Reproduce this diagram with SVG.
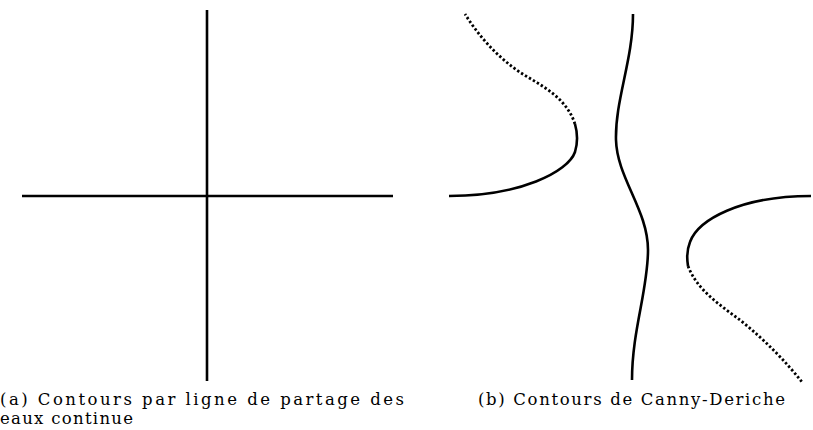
<svg xmlns="http://www.w3.org/2000/svg" width="813" height="430" viewBox="0 0 813 430">
<style>
.c{fill:none;stroke:#000;stroke-width:2.6;stroke-linecap:butt}
.d{fill:none;stroke:#000;stroke-width:2.8;stroke-dasharray:2.4 2.2}
text{font-family:"DejaVu Serif","Liberation Serif",serif;font-size:16.5px;fill:#000}
</style>
<rect width="813" height="430" fill="#fff"/>
<g id="fig-a">
<line class="c" x1="22" y1="196" x2="393" y2="196"/>
<line class="c" x1="207" y1="10" x2="207" y2="381"/>
</g>
<g id="fig-b">
<path class="c" d="M449,196 C520,196 568,172 575,152 C578,142 577,131 575,124"/>
<path class="d" d="M575,124 C566,97 542,86 521,73 C497,57 478,35 465,14"/>
<path class="c" d="M633,14 C633,60 615,100 616,140 C617,178 648,210 648,250 C648,290 632,330 632,380"/>
<path class="c" d="M811,196 C740,196 698,220 690,242 C686,252 687,260 688,266"/>
<path class="d" d="M688,266 C697,290 720,305 740,320 C765,340 786,362 802,382"/>
</g>
<g id="captions">
<text x="0" y="405" textLength="404" lengthAdjust="spacing">(a) Contours par ligne de partage des</text>
<text x="0" y="424" textLength="133" lengthAdjust="spacing">eaux continue</text>
<text x="478" y="405" textLength="307" lengthAdjust="spacing">(b) Contours de Canny-Deriche</text>
</g>
</svg>
